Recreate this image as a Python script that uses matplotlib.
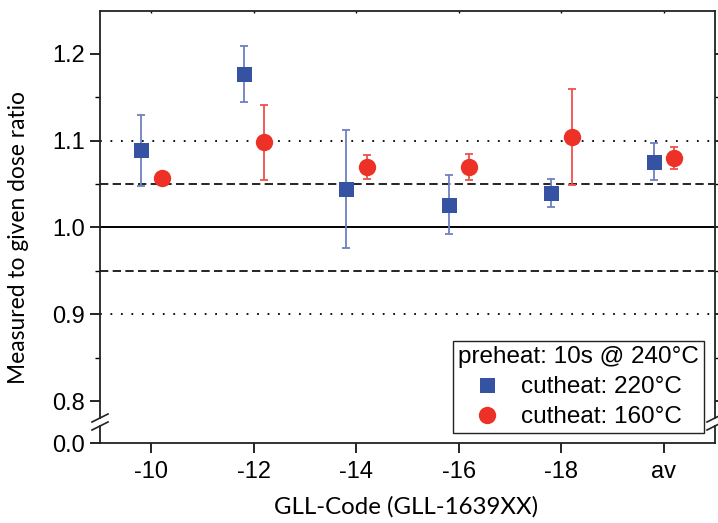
import matplotlib
matplotlib.use("Agg")
import matplotlib.pyplot as plt
from matplotlib.lines import Line2D
import numpy as np

# ---- data ----
categories = ["-10", "-12", "-14", "-16", "-18", "av"]
cut220_vals = [1.089, 1.177, 1.044, 1.026, 1.040, 1.076]
cut220_err = [0.041, 0.032, 0.068, 0.034, 0.016, 0.021]
cut160_vals = [1.057, 1.098, 1.070, 1.070, 1.104, 1.080]
cut160_err = [0.004, 0.043, 0.014, 0.015, 0.055, 0.013]
ref_solid = [1.0]
ref_dashed = [1.05, 0.95]
ref_dotted = [1.1, 0.9]
upper_ticks = [0.8, 0.9, 1.0, 1.1, 1.2]
upper_tick_labels = ["0.8", "0.9", "1.0", "1.1", "1.2"]
lower_ticks = [0.0]
lower_tick_labels = ["0.0"]
legend_title = "preheat: 10s @ 240°C"
label_220 = "cutheat: 220°C"
label_160 = "cutheat: 160°C"
xlabel = "GLL-Code (GLL-1639XX)"
ylabel = "Measured to given dose ratio"

BLUE = "#3552a3"
BLUE_ERR = "#6d80c2"
RED = "#ee3127"
RED_ERR = "#f0504a"

W, H = 718, 523
fig = plt.figure(figsize=(W / 100, H / 100), dpi=100)


def fx(x):
    return x / W


def fy(y):
    return 1 - y / H


SANS = ["Liberation Sans", "DejaVu Sans"]
tick_font = dict(family=SANS, size=17)

L, R = 100, 715
TOP, BREAK_HI, BREAK_LO, BOT = 11, 418, 426, 443

ax = fig.add_axes([fx(L), fy(BREAK_HI), fx(R) - fx(L), fy(TOP) - fy(BREAK_HI)])
axb = fig.add_axes([fx(L), fy(BOT), fx(R) - fx(L), fy(BREAK_LO) - fy(BOT)], sharex=ax)
axb.patch.set_visible(False)

px_per_unit = 870.0
ylo = 0.8 - (BREAK_HI - 401) / px_per_unit
yhi = 1.2 + (54 - TOP) / px_per_unit
ax.set_ylim(ylo, yhi)
axb.set_ylim(0.0, (BOT - BREAK_LO) / px_per_unit)

x = np.arange(len(categories))
ax.set_xlim(-0.5, len(categories) - 0.5)

# reference lines
for v in ref_solid:
    ax.axhline(v, color="black", lw=1.4, zorder=1)
for v in ref_dashed:
    ax.axhline(v, color="black", lw=1.2, ls=(0, (5, 2.6)), zorder=1)
for v in ref_dotted:
    ax.axhline(v, color="black", lw=1.3, ls=(0, (1.0, 4.8)), zorder=1)

off = 0.1
eb1 = ax.errorbar(x - off, cut220_vals, yerr=cut220_err, fmt="s", color=BLUE,
                  ecolor=BLUE_ERR, elinewidth=1.3, capsize=3, capthick=1.3,
                  markersize=10.8, zorder=3)
eb1[0].set_markeredgewidth(0)
eb2 = ax.errorbar(x + off, cut160_vals, yerr=cut160_err, fmt="o", color=RED,
                  ecolor=RED_ERR, elinewidth=1.3, capsize=3, capthick=1.3,
                  markersize=12.5, zorder=3)
eb2[0].set_markeredgewidth(0)

# spines / ticks
for a in (ax, axb):
    for s in a.spines.values():
        s.set_linewidth(1.3)
        s.set_color("#222222")
ax.spines["bottom"].set_visible(False)
axb.spines["top"].set_visible(False)

ax.set_yticks(upper_ticks)
ax.set_yticklabels(upper_tick_labels, **tick_font)
ax.set_yticks([0.85, 0.95, 1.05, 1.15], minor=True)
ax.tick_params(axis="y", which="major", direction="out", length=7, width=1.2,
               right=True, pad=4)
ax.tick_params(axis="y", which="minor", direction="out", length=3.5, width=1.0,
               right=True)
ax.tick_params(axis="x", which="both", bottom=False, labelbottom=False,
               top=True, direction="in", length=1.5, width=1)

axb.set_yticks(lower_ticks)
axb.set_yticklabels(lower_tick_labels, **tick_font)
axb.set_xticks(x)
axb.set_xticklabels(categories, **tick_font)
axb.tick_params(axis="y", direction="out", length=7, width=1.2, pad=4)
axb.tick_params(axis="x", direction="out", length=7, width=1.2, pad=6)

# break marks
for xs in (L, R):
    for yb in (BREAK_HI, BREAK_LO):
        fig.add_artist(Line2D([fx(xs - 8), fx(xs + 8)], [fy(yb + 4), fy(yb - 4)],
                              transform=fig.transFigure, color="#222222", lw=1.2))

# labels
fig.text(fx(406), fy(507), xlabel, ha="center", va="center",
         family=["Lato", "DejaVu Sans"], size=17.3)
fig.text(fx(19), fy(238), ylabel, ha="center", va="center", rotation=90,
         family=["Lato", "DejaVu Sans"], size=16.4)

# legend
h1 = Line2D([], [], marker="s", ls="none", color=BLUE, markersize=10.8, markeredgewidth=0)
h2 = Line2D([], [], marker="o", ls="none", color=RED, markersize=12.5, markeredgewidth=0)
leg = fig.legend([h1, h2], [label_220, label_160], title=legend_title,
                 loc="lower right", bbox_to_anchor=(fx(704), fy(433)),
                 bbox_transform=fig.transFigure, frameon=True, fancybox=False,
                 borderpad=0.2, labelspacing=0.33, handletextpad=0.9,
                 handlelength=1.0, borderaxespad=0,
                 prop=dict(family=SANS, size=17.5),
                 title_fontproperties=dict(family=SANS, size=17.5))
leg.get_frame().set_edgecolor("#222222")
leg.get_frame().set_linewidth(1.0)
leg.get_frame().set_alpha(1)
leg.set_zorder(5)

fig.savefig("out.png", dpi=100)
